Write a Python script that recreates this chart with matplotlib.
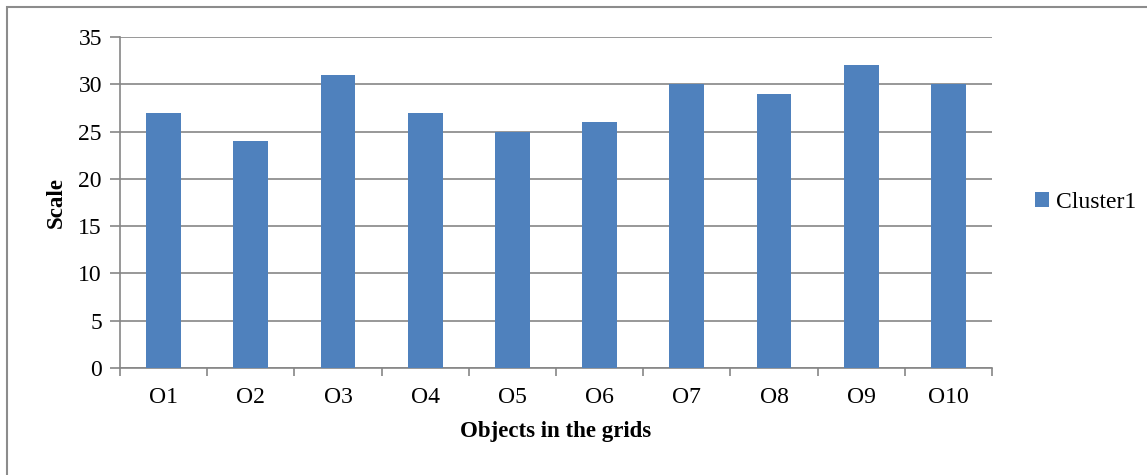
import matplotlib.pyplot as plt
from matplotlib.patches import Rectangle

# Data
categories = ["O1", "O2", "O3", "O4", "O5", "O6", "O7", "O8", "O9", "O10"]
cluster1 = [27, 24, 31, 27, 25, 26, 30, 29, 32, 30]
y_ticks = [0, 5, 10, 15, 20, 25, 30, 35]

plt.rcParams['font.family'] = ['Liberation Serif', 'DejaVu Serif']

W, H = 1147, 475
fig = plt.figure(figsize=(W / 100, H / 100), dpi=100)

# outer chart frame (only top and left edges fall inside the image)
fig.patches.append(Rectangle((7 / W, -0.1), 1.2, 1 - 7 / H + 0.1, transform=fig.transFigure,
                             fill=False, edgecolor='#8c8c8c', linewidth=1.5))

ax = fig.add_axes([120 / W, 1 - 368 / H, (992 - 120) / W, (368 - 37) / H])

gray = '#868686'
x = range(len(categories))
ax.bar(x, cluster1, width=0.4, color='#4F81BD', label='Cluster1', zorder=3)

ax.set_xlim(-0.5, len(categories) - 0.5)
ax.set_ylim(0, 35)
ax.set_yticks(y_ticks)
ax.set_xticks(list(x))
ax.set_xticklabels(categories)
ax.set_xticks([i - 0.5 for i in range(len(categories) + 1)], minor=True)
ax.yaxis.grid(True, color=gray, linewidth=1.2, zorder=0)

for side in ['top', 'right']:
    ax.spines[side].set_visible(False)
ax.spines['left'].set_color(gray)
ax.spines['bottom'].set_color(gray)
ax.spines['left'].set_linewidth(1.2)
ax.spines['bottom'].set_linewidth(1.2)

ax.tick_params(axis='y', length=7, width=1.2, color=gray, labelsize=17, pad=6)
ax.tick_params(axis='x', which='major', length=0, labelsize=17, pad=14)
ax.tick_params(axis='x', which='minor', length=6, width=1.2, color=gray)

ax.set_xlabel('Objects in the grids', fontsize=16.5, fontweight='bold', labelpad=9)
ax.set_ylabel('Scale', fontsize=16.5, fontweight='bold', labelpad=8)

ax.legend(loc='center left', bbox_to_anchor=(1.038, 0.5), frameon=False, fontsize=17,
          handlelength=0.6, handleheight=0.6, handletextpad=0.3, borderaxespad=0)

fig.savefig('out.png', dpi=100)
